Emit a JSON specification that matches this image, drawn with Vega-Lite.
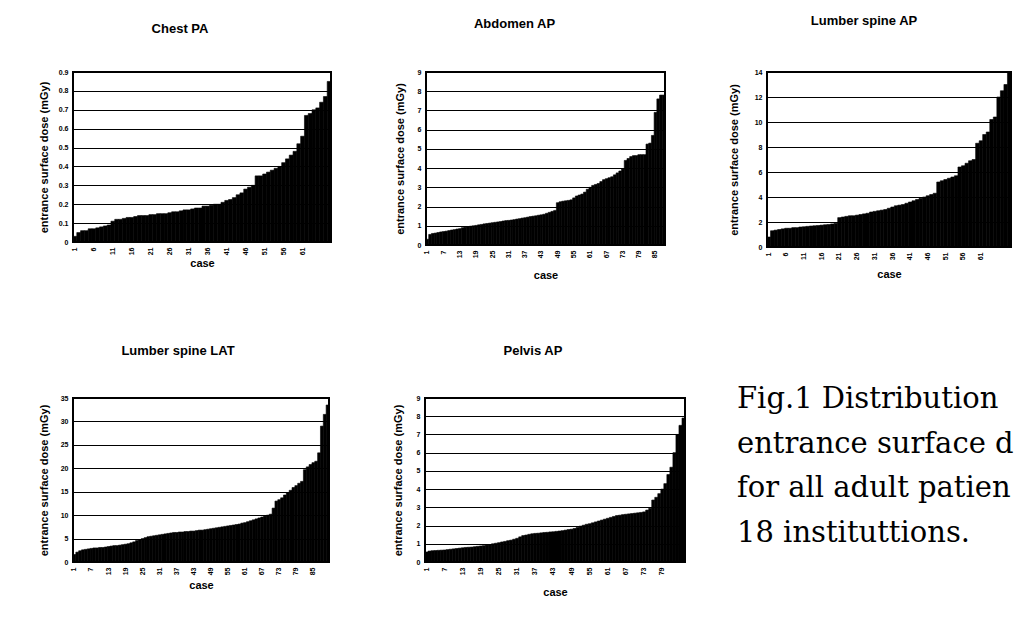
{
"$schema": "https://vega.github.io/schema/vega-lite/v6.json",
"padding": {"left": 37, "top": 14, "right": 0, "bottom": 0},
"background": "white",
"datasets": {
"chest": [{"case":1,"dose":0.03},{"case":2,"dose":0.05},{"case":3,"dose":0.06},{"case":4,"dose":0.06},{"case":5,"dose":0.07},{"case":6,"dose":0.07},{"case":7,"dose":0.075},{"case":8,"dose":0.08},{"case":9,"dose":0.085},{"case":10,"dose":0.09},{"case":11,"dose":0.11},{"case":12,"dose":0.12},{"case":13,"dose":0.12},{"case":14,"dose":0.125},{"case":15,"dose":0.13},{"case":16,"dose":0.13},{"case":17,"dose":0.135},{"case":18,"dose":0.14},{"case":19,"dose":0.14},{"case":20,"dose":0.14},{"case":21,"dose":0.145},{"case":22,"dose":0.145},{"case":23,"dose":0.15},{"case":24,"dose":0.15},{"case":25,"dose":0.15},{"case":26,"dose":0.155},{"case":27,"dose":0.16},{"case":28,"dose":0.16},{"case":29,"dose":0.165},{"case":30,"dose":0.17},{"case":31,"dose":0.17},{"case":32,"dose":0.175},{"case":33,"dose":0.18},{"case":34,"dose":0.18},{"case":35,"dose":0.19},{"case":36,"dose":0.19},{"case":37,"dose":0.195},{"case":38,"dose":0.2},{"case":39,"dose":0.2},{"case":40,"dose":0.21},{"case":41,"dose":0.22},{"case":42,"dose":0.225},{"case":43,"dose":0.235},{"case":44,"dose":0.25},{"case":45,"dose":0.26},{"case":46,"dose":0.28},{"case":47,"dose":0.29},{"case":48,"dose":0.3},{"case":49,"dose":0.35},{"case":50,"dose":0.35},{"case":51,"dose":0.36},{"case":52,"dose":0.37},{"case":53,"dose":0.38},{"case":54,"dose":0.39},{"case":55,"dose":0.4},{"case":56,"dose":0.42},{"case":57,"dose":0.44},{"case":58,"dose":0.46},{"case":59,"dose":0.48},{"case":60,"dose":0.52},{"case":61,"dose":0.56},{"case":62,"dose":0.67},{"case":63,"dose":0.68},{"case":64,"dose":0.7},{"case":65,"dose":0.71},{"case":66,"dose":0.74},{"case":67,"dose":0.77},{"case":68,"dose":0.85}],
"abdomen": [{"case":1,"dose":0.3},{"case":2,"dose":0.55},{"case":3,"dose":0.6},{"case":4,"dose":0.62},{"case":5,"dose":0.65},{"case":6,"dose":0.68},{"case":7,"dose":0.7},{"case":8,"dose":0.72},{"case":9,"dose":0.75},{"case":10,"dose":0.78},{"case":11,"dose":0.8},{"case":12,"dose":0.83},{"case":13,"dose":0.85},{"case":14,"dose":0.9},{"case":15,"dose":0.93},{"case":16,"dose":0.95},{"case":17,"dose":0.98},{"case":18,"dose":1.0},{"case":19,"dose":1.02},{"case":20,"dose":1.05},{"case":21,"dose":1.07},{"case":22,"dose":1.1},{"case":23,"dose":1.12},{"case":24,"dose":1.14},{"case":25,"dose":1.16},{"case":26,"dose":1.18},{"case":27,"dose":1.2},{"case":28,"dose":1.22},{"case":29,"dose":1.25},{"case":30,"dose":1.27},{"case":31,"dose":1.28},{"case":32,"dose":1.3},{"case":33,"dose":1.32},{"case":34,"dose":1.35},{"case":35,"dose":1.37},{"case":36,"dose":1.4},{"case":37,"dose":1.42},{"case":38,"dose":1.45},{"case":39,"dose":1.48},{"case":40,"dose":1.5},{"case":41,"dose":1.52},{"case":42,"dose":1.55},{"case":43,"dose":1.57},{"case":44,"dose":1.6},{"case":45,"dose":1.65},{"case":46,"dose":1.7},{"case":47,"dose":1.75},{"case":48,"dose":1.8},{"case":49,"dose":2.2},{"case":50,"dose":2.25},{"case":51,"dose":2.28},{"case":52,"dose":2.3},{"case":53,"dose":2.32},{"case":54,"dose":2.35},{"case":55,"dose":2.45},{"case":56,"dose":2.55},{"case":57,"dose":2.6},{"case":58,"dose":2.65},{"case":59,"dose":2.75},{"case":60,"dose":2.9},{"case":61,"dose":3.0},{"case":62,"dose":3.1},{"case":63,"dose":3.15},{"case":64,"dose":3.2},{"case":65,"dose":3.3},{"case":66,"dose":3.4},{"case":67,"dose":3.45},{"case":68,"dose":3.5},{"case":69,"dose":3.55},{"case":70,"dose":3.65},{"case":71,"dose":3.75},{"case":72,"dose":3.85},{"case":73,"dose":3.95},{"case":74,"dose":4.4},{"case":75,"dose":4.5},{"case":76,"dose":4.6},{"case":77,"dose":4.65},{"case":78,"dose":4.65},{"case":79,"dose":4.7},{"case":80,"dose":4.7},{"case":81,"dose":4.7},{"case":82,"dose":5.25},{"case":83,"dose":5.3},{"case":84,"dose":5.7},{"case":85,"dose":6.9},{"case":86,"dose":7.6},{"case":87,"dose":7.8},{"case":88,"dose":7.8}],
"lumbarAP": [{"case":1,"dose":0.8},{"case":2,"dose":1.3},{"case":3,"dose":1.35},{"case":4,"dose":1.4},{"case":5,"dose":1.45},{"case":6,"dose":1.5},{"case":7,"dose":1.5},{"case":8,"dose":1.55},{"case":9,"dose":1.55},{"case":10,"dose":1.6},{"case":11,"dose":1.62},{"case":12,"dose":1.65},{"case":13,"dose":1.68},{"case":14,"dose":1.7},{"case":15,"dose":1.72},{"case":16,"dose":1.75},{"case":17,"dose":1.78},{"case":18,"dose":1.8},{"case":19,"dose":1.85},{"case":20,"dose":1.9},{"case":21,"dose":2.35},{"case":22,"dose":2.4},{"case":23,"dose":2.45},{"case":24,"dose":2.5},{"case":25,"dose":2.5},{"case":26,"dose":2.55},{"case":27,"dose":2.6},{"case":28,"dose":2.65},{"case":29,"dose":2.7},{"case":30,"dose":2.8},{"case":31,"dose":2.85},{"case":32,"dose":2.9},{"case":33,"dose":2.95},{"case":34,"dose":3.0},{"case":35,"dose":3.1},{"case":36,"dose":3.2},{"case":37,"dose":3.3},{"case":38,"dose":3.35},{"case":39,"dose":3.4},{"case":40,"dose":3.5},{"case":41,"dose":3.6},{"case":42,"dose":3.7},{"case":43,"dose":3.8},{"case":44,"dose":3.9},{"case":45,"dose":4.0},{"case":46,"dose":4.1},{"case":47,"dose":4.2},{"case":48,"dose":4.3},{"case":49,"dose":5.2},{"case":50,"dose":5.3},{"case":51,"dose":5.4},{"case":52,"dose":5.5},{"case":53,"dose":5.6},{"case":54,"dose":5.7},{"case":55,"dose":6.4},{"case":56,"dose":6.5},{"case":57,"dose":6.7},{"case":58,"dose":6.9},{"case":59,"dose":7.0},{"case":60,"dose":8.3},{"case":61,"dose":8.5},{"case":62,"dose":9.0},{"case":63,"dose":9.2},{"case":64,"dose":10.2},{"case":65,"dose":10.4},{"case":66,"dose":12.0},{"case":67,"dose":12.5},{"case":68,"dose":13.0},{"case":69,"dose":14.0}],
"lumbarLAT": [{"case":1,"dose":1.6},{"case":2,"dose":2.1},{"case":3,"dose":2.4},{"case":4,"dose":2.6},{"case":5,"dose":2.7},{"case":6,"dose":2.8},{"case":7,"dose":2.9},{"case":8,"dose":3.0},{"case":9,"dose":3.0},{"case":10,"dose":3.1},{"case":11,"dose":3.1},{"case":12,"dose":3.2},{"case":13,"dose":3.3},{"case":14,"dose":3.4},{"case":15,"dose":3.5},{"case":16,"dose":3.5},{"case":17,"dose":3.6},{"case":18,"dose":3.7},{"case":19,"dose":3.8},{"case":20,"dose":3.9},{"case":21,"dose":4.1},{"case":22,"dose":4.3},{"case":23,"dose":4.6},{"case":24,"dose":4.8},{"case":25,"dose":5.0},{"case":26,"dose":5.2},{"case":27,"dose":5.4},{"case":28,"dose":5.5},{"case":29,"dose":5.6},{"case":30,"dose":5.7},{"case":31,"dose":5.8},{"case":32,"dose":5.9},{"case":33,"dose":6.0},{"case":34,"dose":6.1},{"case":35,"dose":6.2},{"case":36,"dose":6.3},{"case":37,"dose":6.3},{"case":38,"dose":6.4},{"case":39,"dose":6.4},{"case":40,"dose":6.5},{"case":41,"dose":6.5},{"case":42,"dose":6.6},{"case":43,"dose":6.6},{"case":44,"dose":6.7},{"case":45,"dose":6.8},{"case":46,"dose":6.8},{"case":47,"dose":6.9},{"case":48,"dose":7.0},{"case":49,"dose":7.1},{"case":50,"dose":7.2},{"case":51,"dose":7.3},{"case":52,"dose":7.4},{"case":53,"dose":7.5},{"case":54,"dose":7.6},{"case":55,"dose":7.7},{"case":56,"dose":7.8},{"case":57,"dose":7.9},{"case":58,"dose":8.0},{"case":59,"dose":8.1},{"case":60,"dose":8.3},{"case":61,"dose":8.4},{"case":62,"dose":8.6},{"case":63,"dose":8.8},{"case":64,"dose":9.0},{"case":65,"dose":9.2},{"case":66,"dose":9.4},{"case":67,"dose":9.6},{"case":68,"dose":9.8},{"case":69,"dose":10.0},{"case":70,"dose":10.2},{"case":71,"dose":11.5},{"case":72,"dose":13.0},{"case":73,"dose":13.3},{"case":74,"dose":13.7},{"case":75,"dose":14.3},{"case":76,"dose":14.8},{"case":77,"dose":15.3},{"case":78,"dose":15.9},{"case":79,"dose":16.3},{"case":80,"dose":16.8},{"case":81,"dose":17.2},{"case":82,"dose":19.7},{"case":83,"dose":20.3},{"case":84,"dose":20.8},{"case":85,"dose":21.2},{"case":86,"dose":21.5},{"case":87,"dose":23.3},{"case":88,"dose":29.0},{"case":89,"dose":31.5},{"case":90,"dose":33.5}],
"pelvis": [{"case":1,"dose":0.55},{"case":2,"dose":0.6},{"case":3,"dose":0.62},{"case":4,"dose":0.63},{"case":5,"dose":0.64},{"case":6,"dose":0.65},{"case":7,"dose":0.66},{"case":8,"dose":0.68},{"case":9,"dose":0.7},{"case":10,"dose":0.72},{"case":11,"dose":0.74},{"case":12,"dose":0.76},{"case":13,"dose":0.78},{"case":14,"dose":0.8},{"case":15,"dose":0.81},{"case":16,"dose":0.82},{"case":17,"dose":0.84},{"case":18,"dose":0.86},{"case":19,"dose":0.88},{"case":20,"dose":0.9},{"case":21,"dose":0.93},{"case":22,"dose":0.96},{"case":23,"dose":1.0},{"case":24,"dose":1.03},{"case":25,"dose":1.06},{"case":26,"dose":1.1},{"case":27,"dose":1.13},{"case":28,"dose":1.17},{"case":29,"dose":1.2},{"case":30,"dose":1.25},{"case":31,"dose":1.3},{"case":32,"dose":1.38},{"case":33,"dose":1.45},{"case":34,"dose":1.48},{"case":35,"dose":1.52},{"case":36,"dose":1.55},{"case":37,"dose":1.57},{"case":38,"dose":1.58},{"case":39,"dose":1.6},{"case":40,"dose":1.62},{"case":41,"dose":1.63},{"case":42,"dose":1.65},{"case":43,"dose":1.66},{"case":44,"dose":1.68},{"case":45,"dose":1.7},{"case":46,"dose":1.72},{"case":47,"dose":1.75},{"case":48,"dose":1.78},{"case":49,"dose":1.8},{"case":50,"dose":1.84},{"case":51,"dose":1.9},{"case":52,"dose":1.97},{"case":53,"dose":2.02},{"case":54,"dose":2.07},{"case":55,"dose":2.1},{"case":56,"dose":2.15},{"case":57,"dose":2.2},{"case":58,"dose":2.25},{"case":59,"dose":2.3},{"case":60,"dose":2.35},{"case":61,"dose":2.4},{"case":62,"dose":2.45},{"case":63,"dose":2.5},{"case":64,"dose":2.55},{"case":65,"dose":2.57},{"case":66,"dose":2.6},{"case":67,"dose":2.62},{"case":68,"dose":2.64},{"case":69,"dose":2.66},{"case":70,"dose":2.68},{"case":71,"dose":2.7},{"case":72,"dose":2.72},{"case":73,"dose":2.75},{"case":74,"dose":2.85},{"case":75,"dose":2.95},{"case":76,"dose":3.4},{"case":77,"dose":3.55},{"case":78,"dose":3.75},{"case":79,"dose":4.0},{"case":80,"dose":4.3},{"case":81,"dose":4.8},{"case":82,"dose":5.2},{"case":83,"dose":6.0},{"case":84,"dose":7.0},{"case":85,"dose":7.5},{"case":86,"dose":7.9}],
"caption": [{"line":1,"text":"Fig.1  Distribution"},{"line":2,"text":"entrance surface d"},{"line":3,"text":"for all adult patien"},{"line":4,"text":"18 instituttions."}]
},
"vconcat": [
{"hconcat": [
{"width": 258, "height": 170, "title": {"text": "Chest PA", "offset": 32, "dx": -22, "frame": "group"}, "data": {"name": "chest"},
 "mark": {"type": "bar", "color": "black", "stroke": "black", "strokeWidth": 0.6},
 "encoding": {
  "x": {"field": "case", "type": "ordinal", "scale": {"paddingInner": 0, "paddingOuter": 0}, "axis": {"title": "case", "values": [1,6,11,16,21,26,31,36,41,46,51,56,61], "titleY": 15}},
  "y": {"field": "dose", "type": "quantitative", "scale": {"domain": [0, 0.9], "nice": false}, "axis": {"title": "entrance surface dose (mGy)", "values": [0,0.1,0.2,0.3,0.4,0.5,0.6,0.7,0.8,0.9], "format": "~g", "titleX": -24}}}},
{"width": 239, "height": 173, "title": {"text": "Abdomen AP", "offset": 37, "dx": -31, "frame": "group"}, "data": {"name": "abdomen"},
 "mark": {"type": "bar", "color": "black", "stroke": "black", "strokeWidth": 0.6},
 "encoding": {
  "x": {"field": "case", "type": "ordinal", "scale": {"paddingInner": 0, "paddingOuter": 0}, "axis": {"title": "case", "values": [1,7,13,19,25,31,37,43,49,55,61,67,73,79,85], "titleY": 24}},
  "y": {"field": "dose", "type": "quantitative", "scale": {"domain": [0, 9], "nice": false}, "axis": {"title": "entrance surface dose (mGy)", "values": [0,1,2,3,4,5,6,7,8,9], "format": "~g", "titleX": -21}}}},
{"width": 244, "height": 175, "title": {"text": "Lumber spine AP", "offset": 40, "dx": -25, "frame": "group"}, "data": {"name": "lumbarAP"},
 "mark": {"type": "bar", "color": "black", "stroke": "black", "strokeWidth": 0.6},
 "encoding": {
  "x": {"field": "case", "type": "ordinal", "scale": {"paddingInner": 0, "paddingOuter": 0}, "axis": {"title": "case", "values": [1,6,11,16,21,26,31,36,41,46,51,56,61], "titleY": 21}},
  "y": {"field": "dose", "type": "quantitative", "scale": {"domain": [0, 14], "nice": false}, "axis": {"title": "entrance surface dose (mGy)", "values": [0,2,4,6,8,10,12,14], "format": "~g", "titleX": -28}}}}
], "spacing": 60},
{"hconcat": [
 {"width": 256, "height": 164, "title": {"text": "Lumber spine LAT", "offset": 36, "dx": -23, "frame": "group"}, "data": {"name": "lumbarLAT"},
  "mark": {"type": "bar", "color": "black", "stroke": "black", "strokeWidth": 0.6},
  "encoding": {
   "x": {"field": "case", "type": "ordinal", "scale": {"paddingInner": 0, "paddingOuter": 0}, "axis": {"title": "case", "values": [1,7,13,19,25,31,37,43,49,55,61,67,73,79,85], "titleY": 17}},
   "y": {"field": "dose", "type": "quantitative", "scale": {"domain": [0, 35], "nice": false}, "axis": {"title": "entrance surface dose (mGy)", "values": [0,5,10,15,20,25,30,35], "format": "~g", "titleX": -24}}}},
 {"width": 260, "height": 164, "title": {"text": "Pelvis AP", "offset": 36, "dx": -22, "frame": "group"}, "data": {"name": "pelvis"},
  "mark": {"type": "bar", "color": "black", "stroke": "black", "strokeWidth": 0.6},
  "encoding": {
   "x": {"field": "case", "type": "ordinal", "scale": {"paddingInner": 0, "paddingOuter": 0}, "axis": {"title": "case", "values": [1,7,13,19,25,31,37,43,49,55,61,67,73,79], "titleY": 24}},
   "y": {"field": "dose", "type": "quantitative", "scale": {"domain": [0, 9], "nice": false}, "axis": {"title": "entrance surface dose (mGy)", "values": [0,1,2,3,4,5,6,7,8,9], "format": "~g", "titleX": -22}}}},
 {"width": 230, "height": 154, "data": {"name": "caption"}, "view": {"stroke": null},
  "mark": {"type": "text", "align": "left", "baseline": "alphabetic", "font": "DejaVu Serif", "fontSize": 29, "color": "black", "dx": -44},
  "encoding": {
   "x": {"value": 0},
   "y": {"field": "line", "type": "ordinal", "scale": {"type": "point", "padding": 0.224}, "axis": null},
   "text": {"field": "text"}}}
], "spacing": 96, "bounds": "flush"}
],
"spacing": 63,
"config": {
 "view": {"stroke": "black", "strokeWidth": 2},
 "axis": {"labelFont": "Liberation Sans", "labelFontWeight": "bold", "labelFontSize": 7, "labelColor": "black", "titleFont": "Liberation Sans", "titleFontWeight": "bold", "titleFontSize": 11, "titleColor": "black", "domain": false, "ticks": false, "gridColor": "black", "gridWidth": 1.2, "gridOpacity": 1, "labelOverlap": false},
 "axisX": {"grid": false, "labelAngle": -90, "labelPadding": 5},
 "axisY": {"grid": true, "labelPadding": 5},
 "title": {"font": "Liberation Sans", "fontSize": 13, "fontWeight": "bold", "color": "black"}
}
}
